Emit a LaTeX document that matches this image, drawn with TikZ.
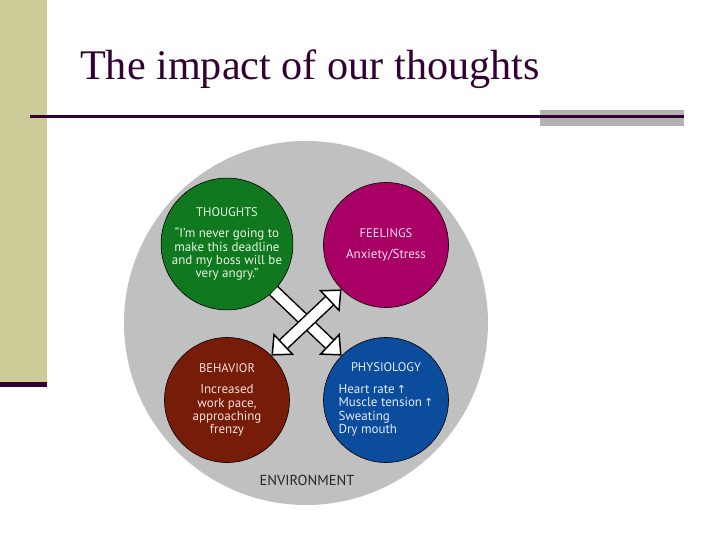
\documentclass[tikz,border=0pt]{standalone}
\usepackage{fontspec}
\setmainfont{Liberation Serif}
\setsansfont{PT Sans}
\newfontfamily\arrowfont{DejaVu Sans}
\usepackage{xcolor}
\usetikzlibrary{arrows.meta}

\definecolor{khaki}{RGB}{204,204,153}
\definecolor{plum}{RGB}{51,0,51}
\definecolor{bargrey}{RGB}{178,178,178}
\definecolor{envgrey}{RGB}{192,192,192}
\definecolor{thgreen}{RGB}{16,120,30}
\definecolor{flmagenta}{RGB}{168,0,100}
\definecolor{bhbrown}{RGB}{120,28,10}
\definecolor{phblue}{RGB}{12,76,156}

\newcommand{\upmark}{\,{\arrowfont\fontsize{11}{12}\selectfont\char"2191}}
\newcommand{\headfont}{\sffamily\fontsize{12.5}{13.5}\selectfont}

\begin{document}
\begin{tikzpicture}[x=1pt, y=-1pt,
    bubble/.style={circle, draw=black, line width=0.6pt, minimum size=125pt, inner sep=0pt,
        align=center, font=\sffamily\fontsize{13}{13.4}\selectfont},
    bigarrow/.style={draw=black, line width=1.5pt, double=white, double distance=10pt,
        {Triangle[width=30pt, length=17pt, fill=white, line width=1.5pt]}-{Triangle[width=30pt, length=17pt, fill=white, line width=1.5pt]}},
    halfarrow/.style={draw=black, line width=1.5pt, double=white, double distance=10pt,
        -{Triangle[width=30pt, length=17pt, fill=white, line width=1.5pt]}}]
    \useasboundingbox (0,0) rectangle (720,540);
    % slide frame
    \fill[khaki] (0,0) rectangle (47,382);
    \fill[plum] (0,382) rectangle (47,387);
    \fill[bargrey] (540,110) rectangle (684,126);
    \draw[plum, line width=3pt] (30,117) -- (684,117);
    \node[anchor=base west, inner sep=0pt, text=plum, font=\fontsize{42.2}{46}\selectfont] (title) at (80,80) {The impact of our thoughts};
    % environment
    \node[circle, fill=envgrey, minimum size=364pt, inner sep=0pt] (env) at (306,323) {};
    \node[font=\sffamily\fontsize{14.5}{16}\selectfont, text=black!85] (envlabel) at (307,480) {ENVIRONMENT};
    % the four circles
    \node[bubble, fill=thgreen, text={rgb,255:red,232;green,245;blue,226}] (thoughts) at (227,244)
        {{\headfont THOUGHTS}\\[8pt]``I'm never going to\\make this deadline\\and my boss will be\\very angry.''};
    \node[bubble, fill=flmagenta, text={rgb,255:red,250;green,222;blue,240}] (feelings) at (386,245)
        {{\headfont FEELINGS}\\[8pt]Anxiety/Stress};
    \node[bubble, fill=bhbrown, text={rgb,255:red,245;green,226;blue,216}] (behavior) at (227,400)
        {{\headfont BEHAVIOR}\\[8pt]Increased\\work pace,\\approaching\\frenzy};
    \node[bubble, fill=phblue, text={rgb,255:red,226;green,236;blue,250}] (physiology) at (386,400)
        {\begin{tabular}{@{}l@{}}
            \multicolumn{1}{@{}c@{}}{\headfont PHYSIOLOGY}\\[8pt]
            Heart rate\upmark\\
            Muscle tension\upmark\\
            Sweating\\
            Dry mouth
        \end{tabular}};
    % arrows between circles
    \draw[halfarrow] (thoughts.-45) -- (physiology.135);
    \draw[bigarrow] (behavior.45) -- (feelings.225);
\end{tikzpicture}
\end{document}
